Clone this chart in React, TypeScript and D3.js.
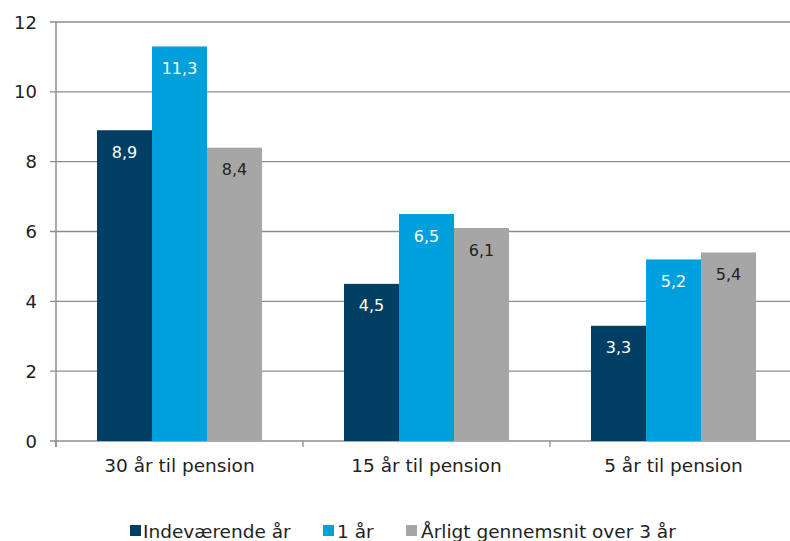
import React from "react";
import * as d3 from "d3";

const categories = ["30 år til pension", "15 år til pension", "5 år til pension"];
const seriesNames = ["Indeværende år", "1 år", "Årligt gennemsnit over 3 år"];
const current = [8.9, 4.5, 3.3];
const oneYear = [11.3, 6.5, 5.2];
const avg3 = [8.4, 6.1, 5.4];
const yTicks = [0, 2, 4, 6, 8, 10, 12];

const colors = ["#003f63", "#00a0dc", "#a6a6a6"];
const labelColors = ["#ffffff", "#ffffff", "#222222"];

export default function App() {
  const W = 790, H = 541;
  const left = 56, top = 22, bottom = 441;
  const step = 247;
  const x = d3.scaleBand<string>().domain(categories).range([left, left + step * categories.length]).paddingInner(0).paddingOuter(0);
  const y = d3.scaleLinear().domain([0, 12]).range([bottom, top]);
  const barW = 55;
  const series = [current, oneYear, avg3];
  const font = "'DejaVu Sans', sans-serif";
  const gridColor = "#8c8c8c";

  return (
    <svg width={W} height={H} style={{ position: "absolute", left: 0, top: 0, fontFamily: font }}>
      {yTicks.map((t) => (
        <g key={t}>
          <line x1={left - 6} x2={W} y1={y(t)} y2={y(t)} stroke={gridColor} strokeWidth={1.3} />
          <text x={37} y={y(t)} textAnchor="end" dominantBaseline="central" fontSize={18} fill="#222">{t}</text>
        </g>
      ))}
      {categories.map((c) => (
        <line key={c} x1={x(c)!} x2={x(c)!} y1={bottom} y2={bottom + 6} stroke={gridColor} strokeWidth={1.3} />
      ))}
      <line x1={x(categories[2])! + step} x2={x(categories[2])! + step} y1={bottom} y2={bottom + 6} stroke={gridColor} strokeWidth={1.3} />
      {series.map((vals, s) =>
        vals.map((v, i) => {
          const cx = x(categories[i])! + step / 2;
          const bx = cx - (barW * 3) / 2 + s * barW;
          return (
            <g key={`${s}-${i}`}>
              <rect x={bx} y={y(v)} width={barW} height={bottom - y(v)} fill={colors[s]} />
              <text x={bx + barW / 2} y={y(v) + 22} textAnchor="middle" dominantBaseline="central" fontSize={16} fill={labelColors[s]}>
                {d3.format(".1f")(v).replace(".", ",")}
              </text>
            </g>
          );
        })
      )}
      <line x1={left} x2={left} y1={top} y2={bottom + 6} stroke={gridColor} strokeWidth={1.5} />
      {categories.map((c) => (
        <text key={c} x={x(c)! + step / 2} y={465} textAnchor="middle" dominantBaseline="central" fontSize={18.5} fill="#222">{c}</text>
      ))}
      {(() => {
        const items = [
          { sx: 130, tx: 143 },
          { sx: 323, tx: 337 },
          { sx: 406, tx: 421 },
        ];
        return seriesNames.map((n, i) => (
          <g key={n}>
            <rect x={items[i].sx} y={525} width={11} height={11} fill={colors[i]} />
            <text x={items[i].tx} y={531} dominantBaseline="central" fontSize={18.5} fill="#222">{n}</text>
          </g>
        ));
      })()}
    </svg>
  );
}
